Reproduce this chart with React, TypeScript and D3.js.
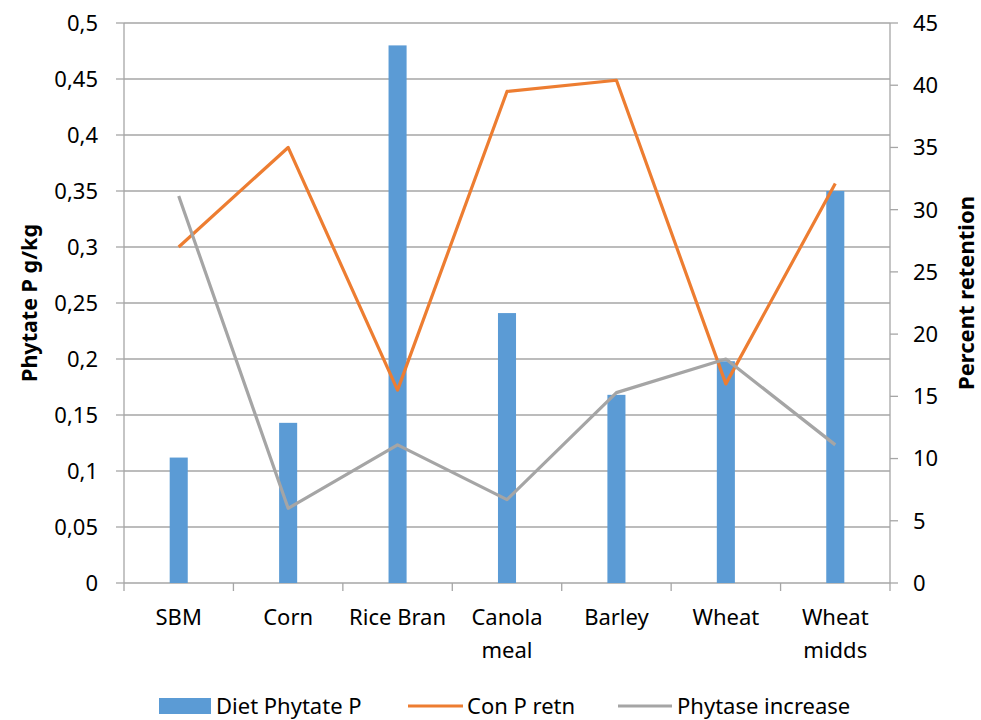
import React from "react";
import * as d3 from "d3";

// Feed ingredients on the category axis
const categories: string[][] = [
  ["SBM"],
  ["Corn"],
  ["Rice Bran"],
  ["Canola", "meal"],
  ["Barley"],
  ["Wheat"],
  ["Wheat", "midds"],
];

// Diet phytate P (g/kg) – left axis, bars
const dietPhytateP = [0.112, 0.143, 0.48, 0.241, 0.168, 0.198, 0.35];
// Control P retention (%) – right axis, orange line
const conPRetn = [27.0, 35.0, 15.5, 39.5, 40.4, 16.0, 32.1];
// Increase with phytase (%) – right axis, grey line
const phytaseIncrease = [31.1, 6.0, 11.1, 6.7, 15.3, 18.0, 11.1];

const leftTicks = [0, 0.05, 0.1, 0.15, 0.2, 0.25, 0.3, 0.35, 0.4, 0.45, 0.5];
const rightTicks = [0, 5, 10, 15, 20, 25, 30, 35, 40, 45];

const W = 981;
const H = 720;
const plot = { left: 124, right: 890, top: 23, bottom: 583 };

const FONT = "'Noto Sans', 'Open Sans', sans-serif";
const GRID = "#a6a6a6";
const BLUE = "#5b9bd5";
const ORANGE = "#ed7d31";
const GREY = "#a5a5a5";

export default function App() {
  const keys = categories.map((c) => c.join(" "));
  const x = d3.scaleBand<string>().domain(keys).range([plot.left, plot.right]).padding(0);
  const yL = d3.scaleLinear().domain([0, 0.5]).range([plot.bottom, plot.top]);
  const yR = d3.scaleLinear().domain([0, 45]).range([plot.bottom, plot.top]);
  const bw = x.bandwidth();
  const cx = (i: number) => (x(keys[i]) as number) + bw / 2;
  const barW = bw * 0.165;

  const line = (vals: number[]) =>
    d3
      .line<number>()
      .x((_, i) => cx(i))
      .y((v) => yR(v))(vals) as string;

  const fmt = (v: number) => String(+v.toFixed(2)).replace(".", ",");

  const legendY = 706;

  return (
    <svg width={W} height={H} style={{ position: "absolute", left: 0, top: 0 }} fontFamily={FONT}>
      <rect width={W} height={H} fill="#fff" />

      {/* horizontal gridlines */}
      {leftTicks.map((t) => (
        <line key={"g" + t} x1={plot.left} x2={plot.right} y1={yL(t)} y2={yL(t)} stroke={GRID} strokeWidth={1.3} />
      ))}

      {/* left axis */}
      <line x1={plot.left} x2={plot.left} y1={plot.top} y2={plot.bottom} stroke={GRID} strokeWidth={1.3} />
      {leftTicks.map((t) => (
        <g key={"l" + t}>
          <line x1={plot.left - 8} x2={plot.left} y1={yL(t)} y2={yL(t)} stroke={GRID} strokeWidth={1.3} />
          <text x={98} y={yL(t)} dy="0.36em" textAnchor="end" fontSize={22} fill="#000">
            {fmt(t)}
          </text>
        </g>
      ))}

      {/* right axis */}
      <line x1={plot.right} x2={plot.right} y1={plot.top} y2={plot.bottom} stroke={GRID} strokeWidth={1.3} />
      {rightTicks.map((t) => (
        <g key={"r" + t}>
          <line x1={plot.right} x2={plot.right + 8} y1={yR(t)} y2={yR(t)} stroke={GRID} strokeWidth={1.3} />
          <text x={913} y={yR(t)} dy="0.36em" textAnchor="start" fontSize={22} fill="#000">
            {t}
          </text>
        </g>
      ))}

      {/* category ticks and labels */}
      {keys.map((k) => (
        <line
          key={"ct" + k}
          x1={x(k) as number}
          x2={x(k) as number}
          y1={plot.bottom}
          y2={plot.bottom + 8}
          stroke={GRID}
          strokeWidth={1.3}
        />
      ))}
      <line x1={plot.right} x2={plot.right} y1={plot.bottom} y2={plot.bottom + 8} stroke={GRID} strokeWidth={1.3} />
      {categories.map((lines, i) => (
        <text key={"c" + i} x={cx(i)} y={625} textAnchor="middle" fontSize={22} fill="#000">
          {lines.map((s, j) => (
            <tspan key={j} x={cx(i)} dy={j === 0 ? 0 : 33}>
              {s}
            </tspan>
          ))}
        </text>
      ))}

      {/* bars */}
      {dietPhytateP.map((v, i) => (
        <rect key={"b" + i} x={cx(i) - barW / 2} y={yL(v)} width={barW} height={yL(0) - yL(v)} fill={BLUE} />
      ))}

      {/* lines */}
      <path d={line(conPRetn)} fill="none" stroke={ORANGE} strokeWidth={3.2} strokeLinejoin="round" />
      <path d={line(phytaseIncrease)} fill="none" stroke={GREY} strokeWidth={3.2} strokeLinejoin="round" />

      {/* axis titles */}
      <text
        transform={`translate(37, ${(plot.top + plot.bottom) / 2}) rotate(-90)`}
        textAnchor="middle"
        fontSize={21.5}
        fontWeight="bold"
        fill="#000"
      >
        Phytate P g/kg
      </text>
      <text
        transform={`translate(974, 293) rotate(-90)`}
        textAnchor="middle"
        fontSize={22}
        fontWeight="bold"
        fill="#000"
      >
        Percent retention
      </text>

      {/* legend */}
      <rect x={159} y={legendY - 8} width={52} height={16} fill={BLUE} />
      <text x={216} y={legendY} dy="0.36em" fontSize={22} fill="#000">
        Diet Phytate P
      </text>
      <line x1={408} x2={463} y1={legendY} y2={legendY} stroke={ORANGE} strokeWidth={3.2} />
      <text x={467} y={legendY} dy="0.36em" fontSize={22} fill="#000">
        Con P retn
      </text>
      <line x1={618} x2={672} y1={legendY} y2={legendY} stroke={GREY} strokeWidth={3.2} />
      <text x={677} y={legendY} dy="0.36em" fontSize={22} fill="#000">
        Phytase increase
      </text>
    </svg>
  );
}
